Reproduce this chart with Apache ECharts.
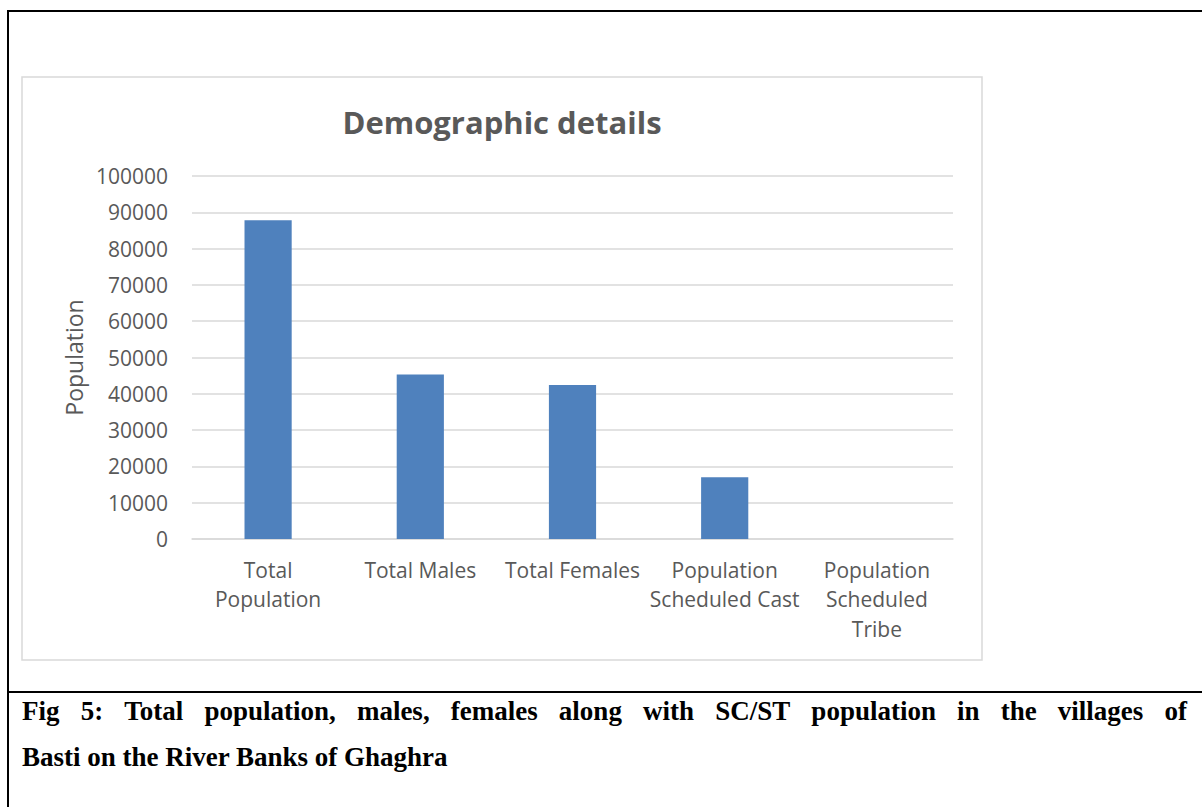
<!DOCTYPE html>
<html>
<head>
<meta charset="utf-8">
<style>
  html, body { margin: 0; padding: 0; background: #ffffff; }
  #chart { width: 1202px; height: 807px; }
</style>
<script src="https://cdn.jsdelivr.net/npm/echarts@6/dist/echarts.min.js"></script>
</head>
<body>
<div id="chart"></div>
<script>
// Category labels (line breaks as shown under each bar)
const categories = [
  'Total\nPopulation',
  'Total Males',
  'Total Females',
  'Population\nScheduled Cast',
  'Population\nScheduled\nTribe'
];
// Population counts per category
const population = [87800, 45350, 42450, 17000, 0];
// Value axis range and step
const yMin = 0;
const yMax = 100000;
const yStep = 10000;

const chartTitle = 'Demographic details';
const yAxisName = 'Population';
const captionLines = [
  'Fig 5: Total population, males, females along with SC/ST population in the villages of',
  'Basti on the River Banks of Ghaghra'
];

const labelFont = '"Open Sans", "Noto Sans", sans-serif';
const serifFont = '"Liberation Serif", "Times New Roman", serif';
const captionSize = 27;
const grey = '#595959';
const gridGrey = '#d9d9d9';

// Caption paragraph is justified: every line but the last fills the column
const captionLeft = 22;
const captionRight = 1187;
const captionTops = [697, 743];

function measure(text) {
  const ctx = document.createElement('canvas').getContext('2d');
  ctx.font = 'bold ' + captionSize + 'px ' + serifFont;
  return ctx.measureText(text).width;
}

function captionElements() {
  const els = [];
  captionLines.forEach(function (line, i) {
    const base = {
      fontFamily: serifFont,
      fontSize: captionSize,
      fontWeight: 'bold',
      fill: '#000'
    };
    if (i === captionLines.length - 1) {
      els.push({ type: 'text', x: captionLeft, y: captionTops[i],
        style: Object.assign({ text: line }, base) });
      return;
    }
    const words = line.split(' ');
    const widths = words.map(measure);
    const total = widths.reduce(function (a, b) { return a + b; }, 0);
    const gap = (captionRight - captionLeft - total) / (words.length - 1);
    let x = captionLeft;
    words.forEach(function (w, k) {
      els.push({ type: 'text', x: x, y: captionTops[i],
        style: Object.assign({ text: w }, base) });
      x += widths[k] + gap;
    });
  });
  return els;
}

const chart = echarts.init(document.getElementById('chart'), null, { renderer: 'svg' });

chart.setOption({
  animation: false,
  backgroundColor: '#ffffff',
  title: {
    text: chartTitle,
    left: 497,
    top: 101,
    textAlign: 'center',
    textStyle: {
      fontFamily: labelFont,
      fontSize: 31,
      fontWeight: 'bold',
      color: grey
    }
  },
  grid: { left: 192, right: 249, top: 176, bottom: 268 },
  xAxis: {
    type: 'category',
    data: categories,
    axisLine: { show: true, lineStyle: { color: gridGrey, width: 1.5 } },
    axisTick: { show: false },
    axisLabel: {
      interval: 0,
      margin: 16,
      fontFamily: labelFont,
      fontSize: 21,
      lineHeight: 29.5,
      color: grey,
      align: 'center'
    }
  },
  yAxis: {
    type: 'value',
    min: yMin,
    max: yMax,
    interval: yStep,
    name: yAxisName,
    nameLocation: 'middle',
    nameRotate: 90,
    nameGap: 107,
    nameTextStyle: { fontFamily: labelFont, fontSize: 23, color: grey },
    axisLine: { show: false },
    axisTick: { show: false },
    splitLine: { show: true, lineStyle: { color: gridGrey, width: 1.5 } },
    axisLabel: {
      margin: 24,
      fontFamily: labelFont,
      fontSize: 21,
      color: grey,
      formatter: function (v) { return String(v); }
    }
  },
  series: [{
    type: 'bar',
    data: population,
    barWidth: '31%',
    itemStyle: { color: '#4f81bd' }
  }],
  graphic: [
    // chart area frame
    {
      type: 'rect',
      shape: { x: 22, y: 77, width: 960, height: 583 },
      style: { fill: 'none', stroke: gridGrey, lineWidth: 1.5 },
      z: 0
    },
    // outer table rules
    { type: 'line', shape: { x1: 7, y1: 11, x2: 1202, y2: 11 }, style: { stroke: '#000', lineWidth: 2 } },
    { type: 'line', shape: { x1: 8, y1: 10, x2: 8, y2: 807 }, style: { stroke: '#000', lineWidth: 2 } },
    { type: 'line', shape: { x1: 7, y1: 692, x2: 1202, y2: 692 }, style: { stroke: '#000', lineWidth: 2 } }
  ].concat(captionElements())
});
</script>
</body>
</html>
